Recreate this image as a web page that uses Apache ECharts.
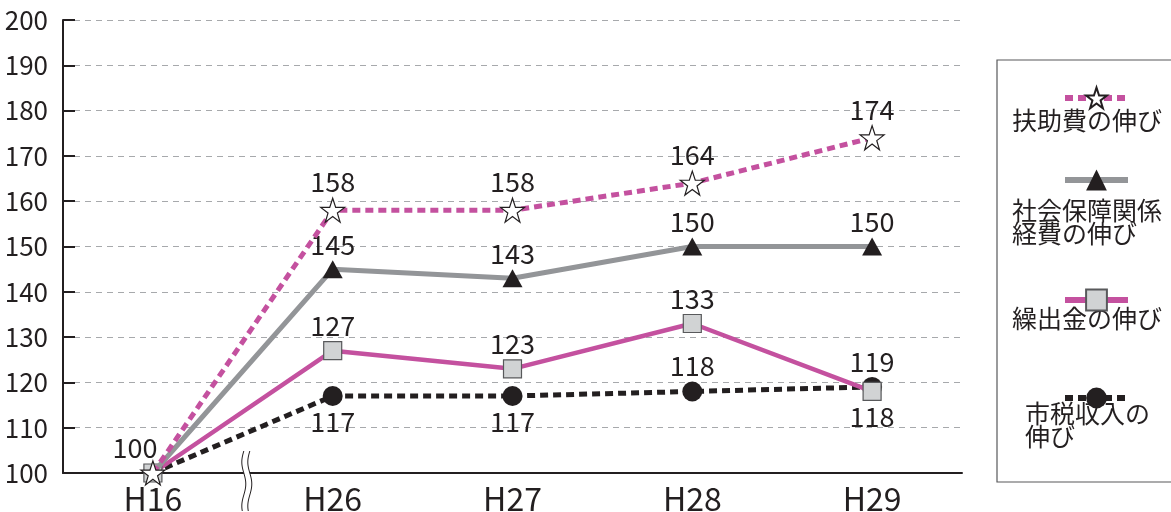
<!DOCTYPE html>
<html>
<head>
<meta charset="utf-8">
<script src="https://cdn.jsdelivr.net/npm/echarts@6/dist/echarts.min.js"></script>
<style>
  html, body { margin: 0; padding: 0; background: #fff; }
  #chart { width: 1171px; height: 512px; }
</style>
</head>
<body>
<div id="chart"></div>
<script>
// 年度
const years = ['H16', 'H26', 'H27', 'H28', 'H29']
const yTicks = [100, 110, 120, 130, 140, 150, 160, 170, 180, 190, 200]

// 伸び率 (H16 = 100)
const fujo = [100, 158, 158, 164, 174]
const shakai = [100, 145, 143, 150, 150]
const kuridashi = [100, 127, 123, 133, 118]
const zeishu = [100, 117, 117, 118, 119]

const names = ['扶助費の伸び', '社会保障関係\n経費の伸び', '繰出金の伸び', '市税収入の\n伸び']

const INK = '#231f20'
const MAGENTA = '#c4519f'
const GRAY = '#939598'
const FONT = '"Noto Sans CJK JP", "Noto Sans", sans-serif'
const STAR = 'path://M50,0 L61.8,34.5 L97.6,34.5 L68.6,55.9 L79.4,90.5 L50,69.1 L20.6,90.5 L31.4,55.9 L2.4,34.5 L38.2,34.5 Z'

// ラベル位置 (null = 表示なし)
const fujoLabel = ['first', 'top', 'top', 'top', 'top']
const shakaiLabel = [null, 'top', 'top', 'top', 'top']
const kuriLabel = [null, 'top', 'top', 'top', 'bottom']
const zeiLabel = [null, 'bottom', 'bottom', 'top', 'top']

const chart = echarts.init(document.getElementById('chart'))

function items(values, labels, hideFirst) {
  return values.map((v, i) => {
    const it = { value: v }
    const pos = labels[i]
    if (pos === 'first') {
      it.label = { show: true, position: 'top', offset: [-18, 3] }
    } else if (pos) {
      it.label = { show: true, position: pos }
    } else {
      it.label = { show: false }
    }
    if (hideFirst && i === 0) it.symbolSize = 0
    return it
  })
}

const labelStyle = { color: INK, fontSize: 27, fontFamily: FONT, distance: 2 }

function legendFor(name, top, line) {
  return {
    data: [name],
    left: 1057,
    top: top,
    itemWidth: 63,
    itemHeight: 26,
    formatter: () => '',
    selectedMode: false,
    lineStyle: line,
    textStyle: { fontSize: 1 }
  }
}

const option = {
  animation: false,
  backgroundColor: '#fff',
  grid: { left: 63, right: 209, top: 20, bottom: 39, outerBoundsMode: 'none' },
  legend: [
    legendFor(names[0], 80, { width: 6, type: [8, 5], color: MAGENTA }),
    legendFor(names[1], 162, { width: 6, color: GRAY }),
    legendFor(names[2], 282, { width: 6, color: MAGENTA }),
    legendFor(names[3], 380, { width: 6, type: [8, 5], color: INK })
  ],
  xAxis: {
    type: 'category',
    data: years,
    boundaryGap: true,
    axisLine: { lineStyle: { color: INK, width: 2 } },
    axisTick: { show: false },
    axisLabel: { color: INK, fontSize: 32, fontFamily: FONT, margin: 10 }
  },
  yAxis: {
    type: 'value',
    min: yTicks[0],
    max: yTicks[yTicks.length - 1],
    interval: 10,
    axisLine: { show: true, lineStyle: { color: INK, width: 2 } },
    axisTick: { show: true, inside: true, length: 12, lineStyle: { color: INK, width: 2 } },
    axisLabel: { color: INK, fontSize: 26, fontFamily: FONT, margin: 15 },
    splitLine: { lineStyle: { color: '#a7a9ac', type: [6, 5], width: 1 } }
  },
  series: [
    {
      name: names[3],
      type: 'line',
      data: items(zeishu, zeiLabel, true),
      symbol: 'circle',
      symbolSize: 20,
      z: 2,
      lineStyle: { color: INK, width: 5, type: [8, 5], cap: 'butt' },
      itemStyle: { color: INK },
      label: labelStyle
    },
    {
      name: names[2],
      type: 'line',
      data: items(kuridashi, kuriLabel, false),
      symbol: 'rect',
      symbolSize: 18,
      z: 3,
      lineStyle: { color: MAGENTA, width: 4.5 },
      itemStyle: { color: '#d1d3d4', borderColor: '#58595b', borderWidth: 1.2 },
      label: labelStyle
    },
    {
      name: names[1],
      type: 'line',
      data: items(shakai, shakaiLabel, true),
      symbol: 'triangle',
      symbolSize: [20, 18],
      z: 4,
      lineStyle: { color: GRAY, width: 5 },
      itemStyle: { color: INK },
      label: labelStyle
    },
    {
      name: names[0],
      type: 'line',
      data: items(fujo, fujoLabel, false),
      symbol: STAR,
      symbolSize: 24,
      z: 5,
      lineStyle: { color: MAGENTA, width: 5, type: [8, 5], cap: 'butt' },
      itemStyle: { color: '#fff', borderColor: INK, borderWidth: 1.2 },
      label: labelStyle
    }
  ]
}

chart.setOption(option)

// 凡例の枠とテキスト、軸の省略記号
const x0 = chart.convertToPixel({ xAxisIndex: 0 }, years[0])
const x1 = chart.convertToPixel({ xAxisIndex: 0 }, years[1])
const yBase = chart.convertToPixel({ yAxisIndex: 0 }, yTicks[0])
const bx = (x0 + x1) / 2 + 4

function wave(xc) {
  const pts = []
  for (let y = yBase - 22; y <= 512; y += 2) {
    pts.push([xc + 2 * Math.sin((y - yBase) / 7), y])
  }
  return pts
}

const textStyle = { fill: INK, fontSize: 25, fontFamily: FONT, lineHeight: 23 }

chart.setOption({
  graphic: [
    {
      type: 'rect',
      shape: { x: 997, y: 60, width: 190, height: 422 },
      style: { fill: 'none', stroke: '#58595b', lineWidth: 1.2 },
      z: 1
    },
    { type: 'text', left: 1012, top: 108, style: Object.assign({ text: '扶助費の伸び' }, textStyle) },
    { type: 'text', left: 1012, top: 198, style: Object.assign({ text: '社会保障関係\n経費の伸び' }, textStyle) },
    { type: 'text', left: 1012, top: 306, style: Object.assign({ text: '繰出金の伸び' }, textStyle) },
    { type: 'text', left: 1025, top: 401, style: Object.assign({ text: '市税収入の\n伸び' }, textStyle) },
    {
      type: 'polygon',
      shape: { points: wave(bx - 3).concat(wave(bx + 3).reverse()) },
      style: { fill: '#fff', stroke: null },
      z: 10
    },
    {
      type: 'polyline',
      shape: { points: wave(bx - 3) },
      style: { stroke: INK, lineWidth: 1, fill: null },
      z: 11
    },
    {
      type: 'polyline',
      shape: { points: wave(bx + 3) },
      style: { stroke: INK, lineWidth: 1, fill: null },
      z: 11
    }
  ]
})
</script>
</body>
</html>
